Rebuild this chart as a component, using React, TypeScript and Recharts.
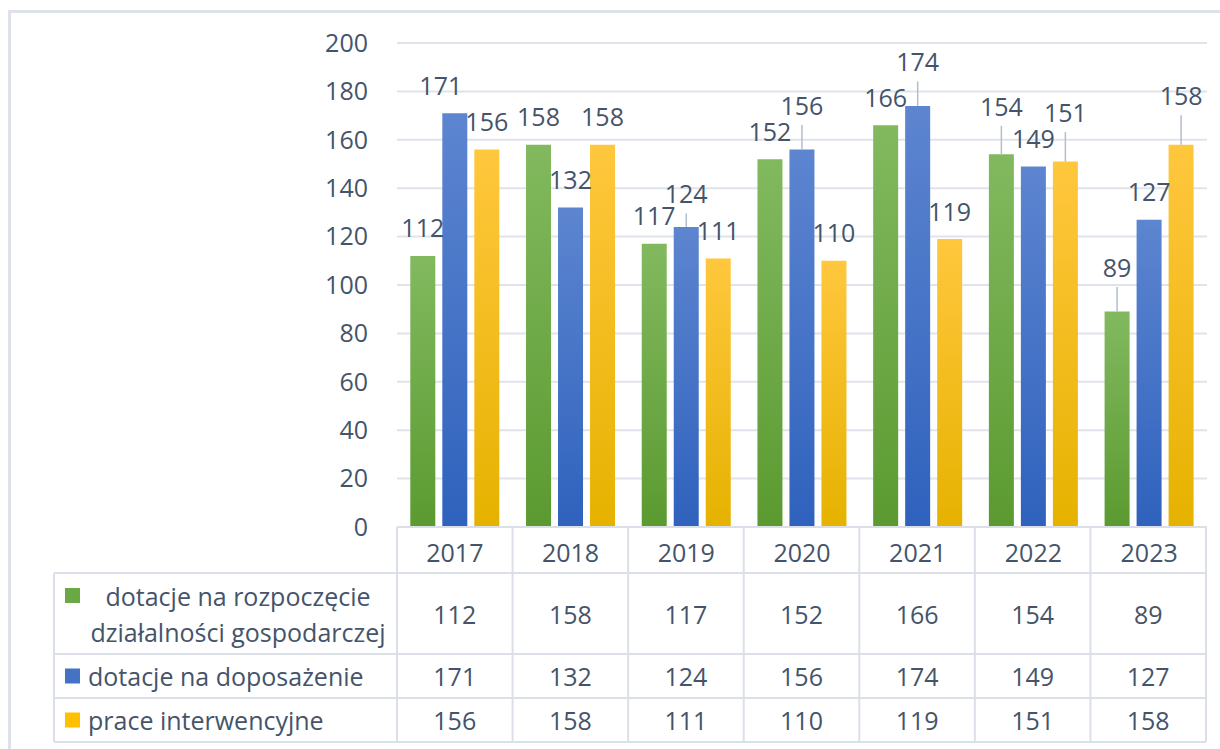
import React from 'react';
import { BarChart, Bar, XAxis, YAxis, CartesianGrid } from 'recharts';

// dane z wykresu
const years = ['2017', '2018', '2019', '2020', '2021', '2022', '2023'];
const startupGrants = [112, 158, 117, 152, 166, 154, 89];
const equipmentGrants = [171, 132, 124, 156, 174, 149, 127];
const interventionWorks = [156, 158, 111, 110, 119, 151, 158];
const yTicks = [0, 20, 40, 60, 80, 100, 120, 140, 160, 180, 200];

const startupName = ['dotacje na rozpoczęcie', 'działalności gospodarczej'];
const equipmentName = ['dotacje na doposażenie'];
const interventionName = ['prace interwencyjne'];

const data = years.map((year, i) => ({
  year,
  startup: startupGrants[i],
  equipment: equipmentGrants[i],
  intervention: interventionWorks[i],
}));

const TEXT = '#44546A';
const FONT = "'Open Sans', sans-serif";
const LINE = '#dbe0e8';

const series = [
  { key: 'startup', label: startupName, values: startupGrants, top: '#82b95f', bottom: '#5b9a30', swatch: '#6aa843' },
  { key: 'equipment', label: equipmentName, values: equipmentGrants, top: '#5d85d0', bottom: '#2f62bd', swatch: '#4472c4' },
  { key: 'intervention', label: interventionName, values: interventionWorks, top: '#ffc73d', bottom: '#e6b200', swatch: '#ffc000' },
];

// przesunięcia etykiet (jak ręcznie przesunięte w Excelu)
const labelLift: Record<string, number[]> = {
  startup: [0, 0, 0, 0, 0, 20, 16],
  equipment: [0, 0, 5, 16, 16, 0, 0],
  intervention: [0, 0, 0, 0, 0, 21, 21],
};
const labelShift: Record<string, number[]> = {
  startup: [0, 0, 0, 0, 0, 0, 0],
  equipment: [-14, 0, 0, 0, 0, 0, 0],
  intervention: [0, 0, 0, 0, 0, 0, 0],
};

const PLOT_LEFT = 397;
const PLOT_RIGHT = 1207;
const COL_W = (1206 - PLOT_LEFT) / years.length;

const renderLabel = (key: string) => (p: any) => {
  const x = Number(p.x);
  const y = Number(p.y);
  const w = Number(p.width);
  const idx = p.index ?? Math.floor((x - PLOT_LEFT) / COL_W);
  const cx = x + w / 2;
  const lift = labelLift[key][idx] ?? 0;
  const lx = cx + (labelShift[key][idx] ?? 0);
  const ly = y - 28.5 - lift;
  return (
    <g>
      {lift > 3 && (
        <line x1={cx} x2={cx} y1={y} y2={ly + 20} stroke="#b3bdcc" strokeWidth={1.5} />
      )}
      <text x={lx} y={ly} textAnchor="middle" dominantBaseline="central" fill={TEXT} fontSize={25} fontFamily={FONT}>
        {p.value}
      </text>
    </g>
  );
};

const YearTick = (p: any) => (
  <text x={p.x} y={Number(p.y) + 23} textAnchor="middle" dominantBaseline="central" fill={TEXT} fontSize={25} fontFamily={FONT}>
    {p.payload.value}
  </text>
);

const rows = [
  { s: series[0], top: 573, bottom: 654 },
  { s: series[1], top: 654, bottom: 698 },
  { s: series[2], top: 698, bottom: 742 },
];

const DataTable = () => {
  const colX = years.map((_, i) => PLOT_LEFT + i * COL_W);
  return (
    <svg width={1220} height={749} style={{ position: 'absolute', left: 0, top: 0 }}>
      {[573, 654, 698, 742].map((y) => (
        <line key={y} x1={54} x2={1206} y1={y} y2={y} stroke={LINE} strokeWidth={2} />
      ))}
      <line x1={PLOT_LEFT} x2={1206} y1={527} y2={527} stroke={LINE} strokeWidth={2} />
      <line x1={54} x2={54} y1={573} y2={742} stroke={LINE} strokeWidth={2} />
      {[...colX, 1206].map((x, i) => (
        <line key={i} x1={x} x2={x} y1={527} y2={742} stroke={LINE} strokeWidth={2} />
      ))}
      {rows.map(({ s, top, bottom }) => {
        const mid = (top + bottom) / 2;
        const lines = s.label;
        const firstY = mid - ((lines.length - 1) * 36) / 2;
        return (
          <g key={s.key}>
            <rect x={65} y={firstY - 7.5} width={15} height={15} fill={s.swatch} />
            {lines.map((t, j) => (
              <text
                key={j}
                x={lines.length > 1 ? 238 : 88}
                y={firstY + j * 36}
                textAnchor={lines.length > 1 ? 'middle' : 'start'}
                dominantBaseline="central"
                fill={TEXT}
                fontSize={25}
                fontFamily={FONT}
              >
                {t}
              </text>
            ))}
            {s.values.map((v, i) => (
              <text
                key={i}
                x={colX[i] + COL_W / 2}
                y={mid}
                textAnchor="middle"
                dominantBaseline="central"
                fill={TEXT}
                fontSize={25}
                fontFamily={FONT}
              >
                {v}
              </text>
            ))}
          </g>
        );
      })}
    </svg>
  );
};

export default function App() {
  return (
    <div style={{ position: 'absolute', left: 0, top: 0, width: 1220, height: 749, background: '#fff', overflow: 'hidden' }}>
      <div
        style={{
          position: 'absolute',
          left: 8,
          top: 10,
          width: 1240,
          height: 760,
          borderLeft: '3px solid #dde1ea',
          borderTop: '3px solid #dde1ea',
        }}
      />
      <div style={{ position: 'absolute', left: 0, top: 0 }}>
        <BarChart
          width={1220}
          height={600}
          data={data}
          margin={{ top: 43, right: 1220 - PLOT_RIGHT, bottom: 27, left: PLOT_LEFT - 100 }}
          barCategoryGap="11.5%"
          barGap={7}
        >
          <defs>
            {series.map((s) => (
              <linearGradient key={s.key} id={`grad-${s.key}`} x1="0" y1="0" x2="0" y2="1">
                <stop offset="0%" stopColor={s.top} />
                <stop offset="100%" stopColor={s.bottom} />
              </linearGradient>
            ))}
          </defs>
          <CartesianGrid vertical={false} stroke="#dfe3eb" strokeWidth={2} />
          <XAxis dataKey="year" height={46} axisLine={false} tickLine={false} tickSize={0} tick={<YearTick />} interval={0} />
          <YAxis
            width={100}
            domain={[0, 200]}
            ticks={yTicks}
            axisLine={false}
            tickLine={false}
            tickMargin={23}
            tick={{ fill: TEXT, fontSize: 25, fontFamily: FONT }}
          />
          {series.map((s) => (
            <Bar
              key={s.key}
              dataKey={s.key}
              fill={`url(#grad-${s.key})`}
              isAnimationActive={false}
              label={renderLabel(s.key)}
            />
          ))}
        </BarChart>
      </div>
      <DataTable />
    </div>
  );
}
